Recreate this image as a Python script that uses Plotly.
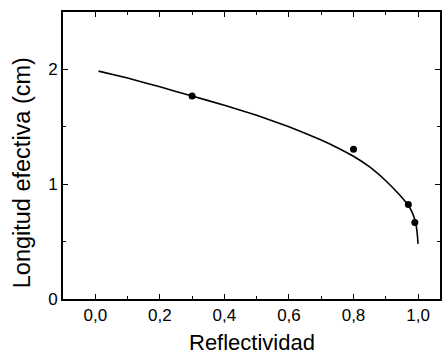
import plotly.graph_objects as go

# Fitted curve
curve_x = [0.01, 0.1, 0.2, 0.3, 0.4, 0.5, 0.6, 0.7, 0.75, 0.8, 0.85, 0.9, 0.93, 0.95, 0.97, 0.98, 0.99, 0.995, 0.998, 1.0]
curve_y = [1.985, 1.925, 1.848, 1.768, 1.688, 1.600, 1.500, 1.385, 1.318, 1.243, 1.150, 1.030, 0.945, 0.885, 0.815, 0.765, 0.690, 0.625, 0.555, 0.48]

# Measured points
pts_x = [0.30, 0.80, 0.97, 0.99]
pts_y = [1.768, 1.304, 0.823, 0.667]

x_ticks = [0.0, 0.2, 0.4, 0.6, 0.8, 1.0]
x_labels = ["0,0", "0,2", "0,4", "0,6", "0,8", "1,0"]
y_ticks = [0, 1, 2]
y_labels = ["0", "1", "2"]

font = "Liberation Sans, Arial, sans-serif"

fig = go.Figure()
fig.add_trace(go.Scatter(x=curve_x, y=curve_y, mode="lines",
                         line=dict(color="black", width=1.6, shape="spline", smoothing=0.3),
                         showlegend=False))
fig.add_trace(go.Scatter(x=pts_x, y=pts_y, mode="markers",
                         marker=dict(color="black", size=7),
                         showlegend=False))

axis_common = dict(showgrid=False, zeroline=False, showline=True, linecolor="black",
                   linewidth=1.6, mirror="ticks", ticks="inside", ticklen=5,
                   tickwidth=1.3, tickcolor="black",
                   tickfont=dict(family=font, size=17, color="black"))

fig.update_xaxes(range=[-0.1, 1.068], tickvals=x_ticks, ticktext=x_labels,
                 minor=dict(ticks="inside", ticklen=3, tickwidth=1.3, tickcolor="black", dtick=0.1, tick0=0),
                 **axis_common)
fig.update_yaxes(range=[0, 2.5], tickvals=y_ticks, ticktext=y_labels,
                 minor=dict(ticks="inside", ticklen=3, tickwidth=1.3, tickcolor="black", dtick=0.5, tick0=0),
                 **axis_common)

fig.add_annotation(text="Reflectividad", xref="paper", yref="paper",
                   x=0.5, y=-0.152, xanchor="center", yanchor="middle", showarrow=False,
                   font=dict(family=font, size=22, color="black"))
fig.add_annotation(text="Longitud efectiva (cm)", xref="paper", yref="paper",
                   x=-0.11, y=0.44, xanchor="center", yanchor="middle", textangle=-90, showarrow=False,
                   font=dict(family=font, size=23.5, color="black"))

fig.update_layout(width=444, height=360, margin=dict(l=63, r=2, t=12, b=61),
                  paper_bgcolor="white", plot_bgcolor="white")

fig.write_html("out.html")
